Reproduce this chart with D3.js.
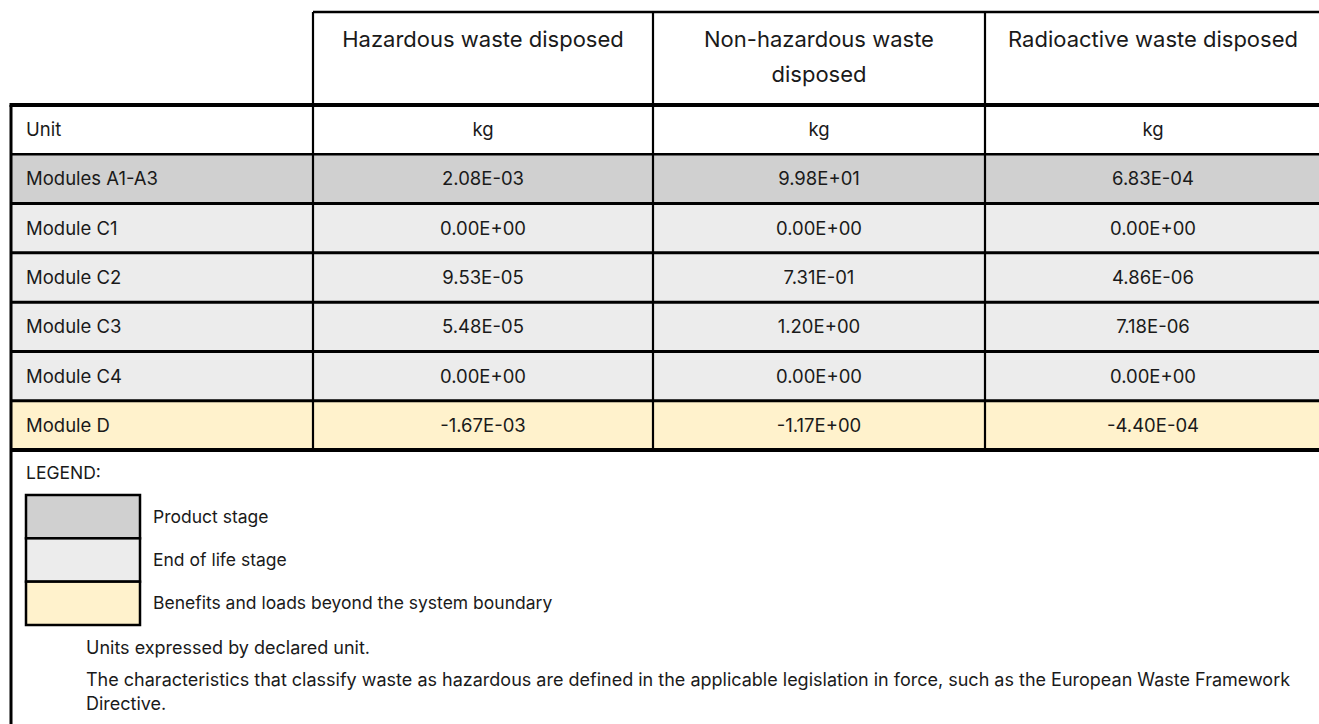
<!DOCTYPE html>
<html>
<head>
<meta charset="utf-8">
<script src="https://cdn.jsdelivr.net/npm/d3@7"></script>
<style>
  html, body { margin: 0; padding: 0; background: #ffffff; }
  svg { display: block; }
  text { font-family: Inter, "Liberation Sans", Arial, sans-serif; fill: #1a1a1a; }
</style>
</head>
<body>
<svg id="chart" width="1319" height="724"></svg>
<script>
// ---------------- data ----------------
const columns = ["Hazardous waste disposed", "Non-hazardous waste disposed", "Radioactive waste disposed"];
const rowLabels = ["Unit", "Modules A1-A3", "Module C1", "Module C2", "Module C3", "Module C4", "Module D"];
const rowStages = ["unit", "product", "eol", "eol", "eol", "eol", "beyond"];
const hazardous = ["kg", "2.08E-03", "0.00E+00", "9.53E-05", "5.48E-05", "0.00E+00", "-1.67E-03"];
const nonHazardous = ["kg", "9.98E+01", "0.00E+00", "7.31E-01", "1.20E+00", "0.00E+00", "-1.17E+00"];
const radioactive = ["kg", "6.83E-04", "0.00E+00", "4.86E-06", "7.18E-06", "0.00E+00", "-4.40E-04"];
const legendTitle = "LEGEND:";
const legendStages = ["product", "eol", "beyond"];
const legendLabels = ["Product stage", "End of life stage", "Benefits and loads beyond the system boundary"];
const noteParagraphs = [
  ["Units expressed by declared unit."],
  ["The characteristics that classify waste as hazardous are defined in the applicable legislation in force, such as the European Waste Framework", "Directive."]
];

// ---------------- layout ----------------
const W = 1319, H = 724;
const colEdges = [11, 313, 653, 985, 1321];
const headerTop = 12, headerBottom = 105, tableBottom = 450;
const bodySize = 18.5, headerSize = 22, legendSize = 17.5, noteSize = 18;
const stageFill = d3.scaleOrdinal()
  .domain(["unit", "product", "eol", "beyond"])
  .range(["#ffffff", "#d0d0d0", "#ececec", "#fff2cc"]);

const svg = d3.select("#chart");

const y = d3.scaleBand().domain(rowLabels).range([headerBottom, tableBottom]).padding(0);
const colMid = i => (colEdges[i] + colEdges[i + 1]) / 2;

const valueCols = [hazardous, nonHazardous, radioactive];

// row backgrounds
svg.append("g").selectAll("rect")
  .data(rowLabels)
  .join("rect")
  .attr("x", colEdges[0])
  .attr("y", d => y(d))
  .attr("width", W - colEdges[0])
  .attr("height", y.bandwidth())
  .attr("fill", (d, i) => stageFill(rowStages[i]));

// row labels
svg.append("g").selectAll("text")
  .data(rowLabels)
  .join("text")
  .attr("x", 26)
  .attr("y", d => y(d) + y.bandwidth() / 2)
  .attr("dy", "0.35em")
  .attr("font-size", bodySize)
  .text(d => d);

// values
valueCols.forEach((vals, ci) => {
  svg.append("g").selectAll("text")
    .data(vals)
    .join("text")
    .attr("x", colMid(ci + 1))
    .attr("y", (d, i) => y(rowLabels[i]) + y.bandwidth() / 2)
    .attr("dy", "0.35em")
    .attr("text-anchor", "middle")
    .attr("font-size", bodySize)
    .text(d => d);
});

// header text with wrapping
function wrapLines(text, maxW, size) {
  const words = text.split(" ");
  const tmp = svg.append("text").attr("font-size", size);
  const lines = [];
  let cur = [];
  words.forEach(w => {
    const trial = cur.concat([w]).join(" ");
    tmp.text(trial);
    if (tmp.node().getComputedTextLength() > maxW && cur.length) {
      lines.push(cur.join(" "));
      cur = [w];
    } else cur.push(w);
  });
  if (cur.length) lines.push(cur.join(" "));
  tmp.remove();
  return lines;
}
const headerG = svg.append("g");
columns.forEach((c, i) => {
  const lines = wrapLines(c, 312, headerSize);
  const t = headerG.append("text")
    .attr("text-anchor", "middle")
    .attr("font-size", headerSize);
  lines.forEach((ln, li) => {
    t.append("tspan").attr("x", colMid(i + 1)).attr("y", 47 + li * 35).text(ln);
  });
});

// grid lines
const lines = svg.append("g").attr("stroke", "#000");
lines.append("line").attr("x1", colEdges[1]).attr("x2", W).attr("y1", headerTop).attr("y2", headerTop).attr("stroke-width", 2.5);
lines.append("line").attr("x1", colEdges[0] - 1.5).attr("x2", W).attr("y1", headerBottom).attr("y2", headerBottom).attr("stroke-width", 4);
lines.selectAll(".rowline")
  .data(rowLabels.slice(1).concat(["__end"]))
  .join("line")
  .attr("x1", colEdges[0])
  .attr("x2", W)
  .attr("y1", d => d === "__end" ? tableBottom : y(d))
  .attr("y2", d => d === "__end" ? tableBottom : y(d))
  .attr("stroke-width", (d, i) => d === "__end" ? 4 : (i === 0 ? 2.5 : 3));
lines.selectAll(".colline")
  .data([1, 2, 3])
  .join("line")
  .attr("x1", i => colEdges[i]).attr("x2", i => colEdges[i])
  .attr("y1", headerTop).attr("y2", tableBottom)
  .attr("stroke-width", 2.2);
lines.append("line").attr("x1", colEdges[0]).attr("x2", colEdges[0]).attr("y1", headerBottom).attr("y2", H).attr("stroke-width", 3);

// legend
svg.append("text").attr("x", 26).attr("y", 473).attr("dy", "0.35em").attr("font-size", legendSize).text(legendTitle);
const ly = d3.scaleBand().domain(legendStages).range([495, 625]);
const legG = svg.append("g");
legG.selectAll("rect")
  .data(legendStages)
  .join("rect")
  .attr("x", 26)
  .attr("y", d => ly(d))
  .attr("width", 114)
  .attr("height", ly.bandwidth())
  .attr("fill", d => stageFill(d))
  .attr("stroke", "#000")
  .attr("stroke-width", 2.5);
legG.selectAll("text")
  .data(legendLabels)
  .join("text")
  .attr("x", 153)
  .attr("y", (d, i) => ly(legendStages[i]) + ly.bandwidth() / 2)
  .attr("dy", "0.35em")
  .attr("font-size", legendSize)
  .text(d => d);

// notes
const noteG = svg.append("g");
let ny = 648;
noteParagraphs.forEach((para, pi) => {
  if (pi > 0) ny += 32;
  para.forEach((ln, li) => {
    if (li > 0) ny += 24;
    noteG.append("text").attr("x", 86).attr("y", ny).attr("dy", "0.35em").attr("font-size", noteSize).text(ln);
  });
});
</script>
</body>
</html>
